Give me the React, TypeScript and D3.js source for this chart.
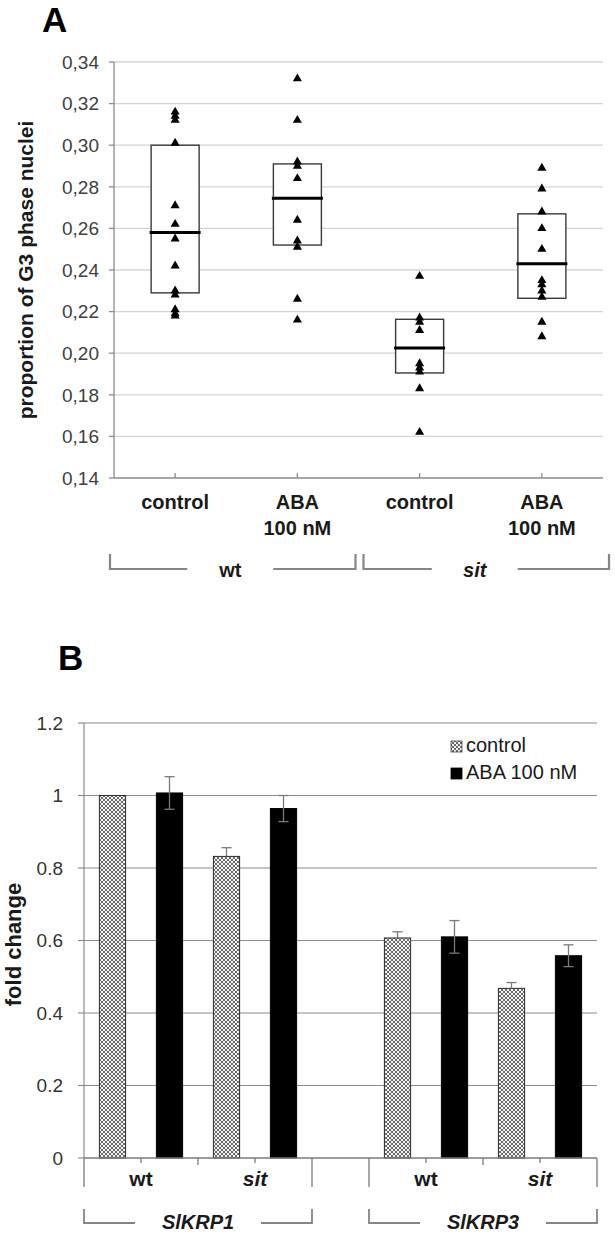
import React from "react";
import * as d3 from "d3";

// ---- panel A : proportion of G3 phase nuclei ----
const labelsA = [["control"], ["ABA", "100 nM"], ["control"], ["ABA", "100 nM"]];
const genotypesA = ["wt", "sit"];
const wtControl = [0.316, 0.314, 0.312, 0.301, 0.271, 0.262, 0.255, 0.242, 0.230, 0.228, 0.221, 0.219, 0.218];
const wtAba = [0.332, 0.312, 0.292, 0.290, 0.284, 0.264, 0.254, 0.251, 0.226, 0.216];
const sitControl = [0.237, 0.217, 0.215, 0.211, 0.195, 0.193, 0.191, 0.183, 0.162];
const sitAba = [0.289, 0.279, 0.268, 0.260, 0.250, 0.235, 0.233, 0.230, 0.227, 0.215, 0.208];
const q1A = [0.229, 0.252, 0.1905, 0.2264];
const medianA = [0.258, 0.2745, 0.2025, 0.243];
const q3A = [0.300, 0.291, 0.2163, 0.267];
const ticksA = [0.14, 0.16, 0.18, 0.20, 0.22, 0.24, 0.26, 0.28, 0.30, 0.32, 0.34];

// ---- panel B : fold change ----
const genesB = ["SlKRP1", "SlKRP3"];
const genotypesB = ["wt", "sit"];
const controlB = [1.0, 0.832, 0.607, 0.468];
const controlErrB = [0, 0.024, 0.017, 0.016];
const abaB = [1.007, 0.964, 0.61, 0.558];
const abaErrB = [0.045, 0.036, 0.045, 0.03];
const seriesB = ["control", "ABA 100 nM"];
const ticksB = [0, 0.2, 0.4, 0.6, 0.8, 1, 1.2];

const font = "'Liberation Sans', Arial, sans-serif";
const commaFmt = d3.formatLocale({ decimal: ",", thousands: ".", grouping: [3], currency: ["", ""] }).format(".2f");

export default function App() {
  const pointsA = [wtControl, wtAba, sitControl, sitAba];

  // scales A
  const xA = d3.scaleBand<number>().domain(d3.range(4)).range([114, 603]);
  const yA = d3.scaleLinear().domain([0.14, 0.34]).range([478, 62]);
  const cA = (i: number) => xA(i)! + xA.bandwidth() / 2;
  const boxW = 48;
  const tri = d3.symbol().type(d3.symbolTriangle).size(36)()!;

  // scales B : 9 slots (gene*5 + genotype*2 + treatment), slot 4 empty
  const xB = d3.scaleBand<number>().domain(d3.range(9)).range([84, 597]);
  const yB = d3.scaleLinear().domain([0, 1.2]).range([1158, 723]);
  const barW = xB.bandwidth() * 0.46;
  const bars: { slot: number; v: number; e: number; s: number }[] = [];
  controlB.forEach((v, i) => {
    const g = Math.floor(i / 2), gt = i % 2;
    bars.push({ slot: g * 5 + gt * 2, v, e: controlErrB[i], s: 0 });
    bars.push({ slot: g * 5 + gt * 2 + 1, v: abaB[i], e: abaErrB[i], s: 1 });
  });
  const bx0 = xB.range()[0], bx1 = xB.range()[1];

  return (
    <svg width={615} height={1235} style={{ position: "absolute", left: 0, top: 0, display: "block", background: "#fff" }} fontFamily={font}>
      <defs>
        <pattern id="check" patternUnits="userSpaceOnUse" width={4} height={4}>
          <rect width={4} height={4} fill="#f4f4f4" />
          {[[0, 0], [1, 1], [2, 2], [3, 3], [3, 0], [2, 1], [1, 2], [0, 3]].map(([px, py], k) => (
            <rect key={k} x={px} y={py} width={1} height={1} fill="#6a6a6a" />
          ))}
        </pattern>
      </defs>

      {/* ================= A ================= */}
      <text x={42} y={32} fontSize={35} fontWeight="bold">A</text>

      {ticksA.map((t) => (
        <g key={t}>
          {t > 0.14 && <line x1={xA.range()[0]} x2={xA.range()[1]} y1={yA(t)} y2={yA(t)} stroke="#d4d4d4" strokeWidth={1.3} />}
          <line x1={xA.range()[0] - 5} x2={xA.range()[0]} y1={yA(t)} y2={yA(t)} stroke="#8a8a8a" strokeWidth={1.3} />
          <text x={99} y={yA(t)} dy="0.36em" textAnchor="end" fontSize={19} fill="#404040">{commaFmt(t)}</text>
        </g>
      ))}
      <line x1={xA.range()[0]} x2={xA.range()[0]} y1={yA(0.34)} y2={yA(0.14)} stroke="#8a8a8a" strokeWidth={1.3} />
      <line x1={xA.range()[0]} x2={xA.range()[1]} y1={yA(0.14)} y2={yA(0.14)} stroke="#8a8a8a" strokeWidth={1.3} />
      {d3.range(4).map((i) => (
        <line key={i} x1={cA(i)} x2={cA(i)} y1={yA(0.14)} y2={yA(0.14) - 5} stroke="#8a8a8a" strokeWidth={1.3} />
      ))}

      {/* boxes */}
      {d3.range(4).map((i) => (
        <g key={i}>
          <rect x={cA(i) - boxW / 2} y={yA(q3A[i])} width={boxW} height={yA(q1A[i]) - yA(q3A[i])} fill="#fff" stroke="#3a3a3a" strokeWidth={1.4} />
          <line x1={cA(i) - boxW / 2 - 1.5} x2={cA(i) + boxW / 2 + 1.5} y1={yA(medianA[i])} y2={yA(medianA[i])} stroke="#000" strokeWidth={3} />
        </g>
      ))}
      {pointsA.map((pts, i) =>
        pts.map((v, k) => (
          <path key={i + "-" + k} d={tri} transform={`translate(${cA(i)},${yA(v)})`} fill="#000" />
        ))
      )}

      {/* category labels A */}
      {labelsA.map((lines, i) => (
        <text key={i} x={cA(i)} y={509} textAnchor="middle" fontSize={20} fontWeight="bold" fill="#1a1a1a">
          {lines.map((l, k) => (
            <tspan key={k} x={cA(i)} dy={k === 0 ? 0 : 26}>{l}</tspan>
          ))}
        </text>
      ))}
      {genotypesA.map((g, gi) => {
        const left = xA(gi * 2)! + (gi === 0 ? -4 : 5);
        const right = xA(gi * 2 + 1)! + xA.bandwidth() + (gi === 0 ? -3 : 6);
        const mid = (xA(gi * 2)! + xA(gi * 2 + 1)! + xA.bandwidth()) / 2 - 6;
        return (
          <g key={g} stroke="#858585" strokeWidth={2.2} fill="none">
            <path d={`M${left},554V569H${mid - 43}M${mid + 43},569H${right}V554`} />
            <text x={mid} y={577} textAnchor="middle" fontSize={20} fontWeight="bold" fontStyle={gi === 1 ? "italic" : "normal"} fill="#1a1a1a" stroke="none">{g}</text>
          </g>
        );
      })}
      <text transform={`translate(33,${(yA(0.14) + yA(0.34)) / 2}) rotate(-90)`} textAnchor="middle" fontSize={21} fontWeight="bold" fill="#1a1a1a">
        proportion of G3 phase nuclei
      </text>

      {/* ================= B ================= */}
      <text x={58} y={670} fontSize={35} fontWeight="bold">B</text>

      {ticksB.map((t) => (
        <g key={t}>
          {t > 0 && <line x1={bx0} x2={bx1} y1={yB(t)} y2={yB(t)} stroke="#8c8c8c" strokeWidth={1.2} />}
          <line x1={bx0 - 6} x2={bx0} y1={yB(t)} y2={yB(t)} stroke="#8c8c8c" strokeWidth={1.2} />
          <text x={63} y={yB(t)} dy="0.36em" textAnchor="end" fontSize={19} fill="#333">{String(+t.toFixed(1))}</text>
        </g>
      ))}
      <line x1={bx0} x2={bx0} y1={yB(1.2)} y2={yB(0)} stroke="#8c8c8c" strokeWidth={1.2} />

      {bars.map((b) => {
        const cx = xB(b.slot)! + xB.bandwidth() / 2;
        return (
          <g key={b.slot}>
            <rect x={cx - barW / 2} y={yB(b.v)} width={barW} height={yB(0) - yB(b.v)}
              fill={b.s === 0 ? "url(#check)" : "#000"} stroke={b.s === 0 ? "#2a2a2a" : "#000"} strokeWidth={1} />
            {b.e > 0 && (
              <g stroke="#7a7a7a" strokeWidth={1.3}>
                <line x1={cx} x2={cx} y1={yB(b.v + b.e)} y2={b.s === 0 ? yB(b.v) : yB(b.v - b.e)} />
                <line x1={cx - 5} x2={cx + 5} y1={yB(b.v + b.e)} y2={yB(b.v + b.e)} />
                {b.s === 1 && <line x1={cx - 5} x2={cx + 5} y1={yB(b.v - b.e)} y2={yB(b.v - b.e)} />}
              </g>
            )}
          </g>
        );
      })}
      <line x1={bx0} x2={bx1} y1={yB(0)} y2={yB(0)} stroke="#7a7a7a" strokeWidth={1.3} />

      {/* multi-level category axis B */}
      {d3.range(10).map((k) => {
        const x = k < 9 ? xB(k)! : bx1;
        const long = k === 0 || k === 4 || k === 5 || k === 9;
        const mid = k === 2 || k === 7;
        return <line key={k} x1={x} x2={x} y1={yB(0)} y2={yB(0) + (long ? 29 : mid ? 7 : 5)} stroke="#7a7a7a" strokeWidth={1.3} />;
      })}
      {genesB.map((gene, g) => (
        <g key={gene}>
          {genotypesB.map((gt, k) => {
            const cx = xB(g * 5 + k * 2)! + xB.bandwidth();
            return (
              <text key={gt} x={cx} y={1186} textAnchor="middle" fontSize={21} fontWeight="bold" fontStyle={k === 1 ? "italic" : "normal"} fill="#1a1a1a">{gt}</text>
            );
          })}
          {(() => {
            const left = xB(g * 5)!;
            const right = xB(g * 5 + 3)! + xB.bandwidth();
            const mid = (left + right) / 2;
            return (
              <g>
                <path d={`M${left},1209V1223H${mid - 63}M${mid + 63},1223H${right}V1209`} stroke="#858585" strokeWidth={1.8} fill="none" />
                <text x={mid} y={1229} textAnchor="middle" fontSize={20} fontWeight="bold" fontStyle="italic" fill="#1a1a1a">{gene}</text>
              </g>
            );
          })()}
        </g>
      ))}

      {/* legend B */}
      {seriesB.map((s, i) => (
        <g key={s} transform={`translate(451,${741 + i * 27})`}>
          <rect x={0} y={0} width={11} height={11} fill={i === 0 ? "url(#check)" : "#000"} stroke={i === 0 ? "#444" : "#000"} strokeWidth={0.8} />
          <text x={15} y={11} fontSize={20} fill="#1a1a1a">{s}</text>
        </g>
      ))}
      <text transform={`translate(21,${(yB(0) + yB(1.2)) / 2 + 4}) rotate(-90)`} textAnchor="middle" fontSize={22} fontWeight="bold" fill="#1a1a1a">
        fold change
      </text>
    </svg>
  );
}
